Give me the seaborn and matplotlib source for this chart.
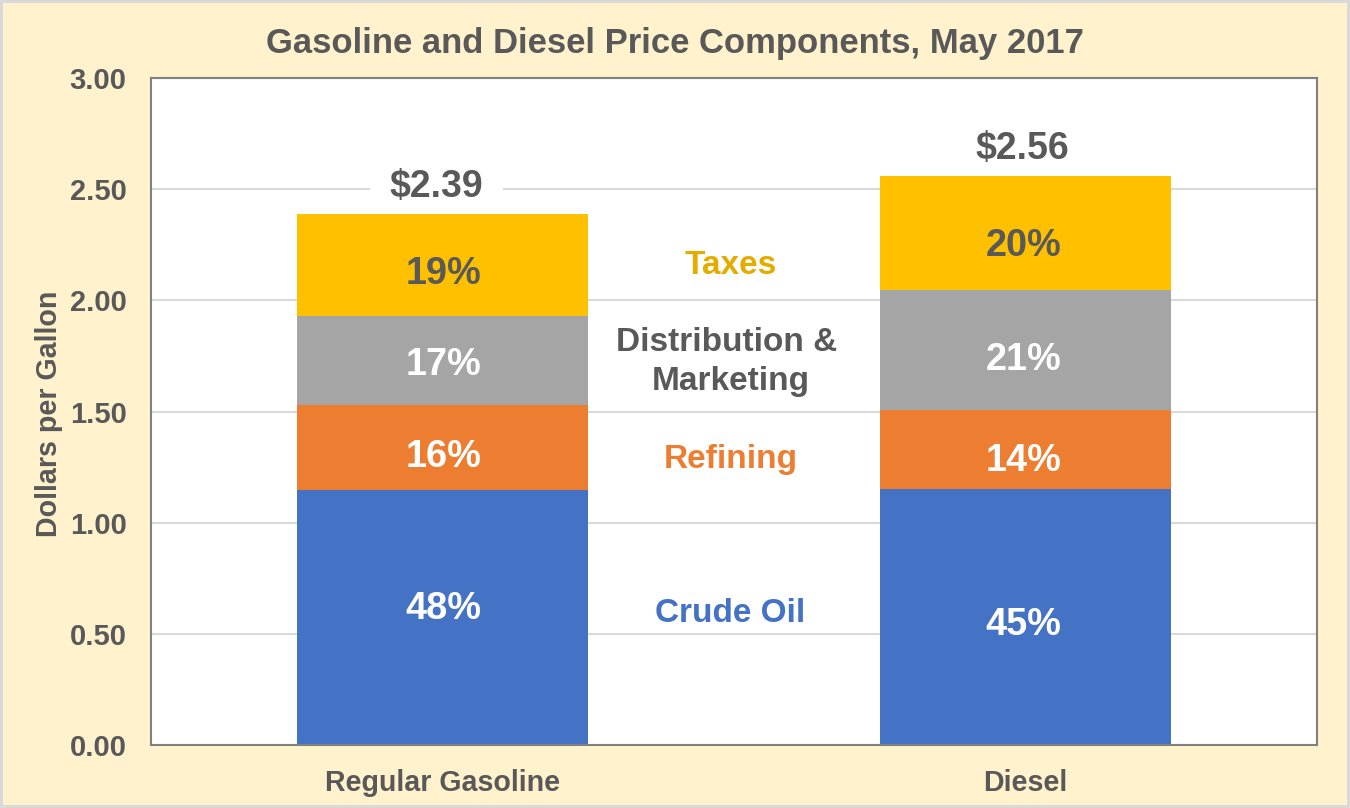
import pandas as pd
import matplotlib
matplotlib.use('Agg')
import matplotlib.pyplot as plt
import seaborn as sns

# Values, dollars per gallon
fuels = ['Regular Gasoline', 'Diesel']
components = ['Crude Oil', 'Refining', 'Distribution & Marketing', 'Taxes']
crude_oil = [1.147, 1.152]
refining = [0.383, 0.355]
distribution = [0.400, 0.540]
taxes = [0.460, 0.513]
totals = ['$2.39', '$2.56']
pct_gasoline = ['48%', '16%', '17%', '19%']
pct_diesel = ['45%', '14%', '21%', '20%']
name_lines = ['Crude Oil', 'Refining', 'Marketing', 'Distribution &', 'Taxes']

colors = ['#4472C4', '#ED7D31', '#A5A5A5', '#FFC000']
name_colors = ['#4472C4', '#ED7D31', '#595959', '#595959', '#E5AC00']
pct_colors = ['white', 'white', 'white', '#595959']
dark = '#595959'

sns.set_theme(style='white')
plt.rcParams['font.family'] = ['Liberation Sans', 'DejaVu Sans']
plt.rcParams['font.weight'] = 'bold'

series = [crude_oil, refining, distribution, taxes]
df = pd.DataFrame({'fuel': fuels * 4,
                   'component': [c for c in components for _ in fuels],
                   'price': crude_oil + refining + distribution + taxes})

fig, ax = plt.subplots(figsize=(13.5, 8.08), dpi=100)
fig.patch.set_facecolor('#FFF2CC')
fig.patch.set_edgecolor('#D9D9D9')
fig.patch.set_linewidth(3)
fig.subplots_adjust(left=151/1350, right=1317/1350, top=1-78/808, bottom=1-745/808)

# stacked bars, one barplot call per component
bottom = [0, 0]
for comp, col, vals in zip(components, colors, series):
    sns.barplot(data=df[df['component'] == comp], x='fuel', y='price', order=fuels,
                color=col, saturation=1, width=0.5, bottom=bottom, ax=ax, zorder=3, linewidth=0)
    bottom = [a + b for a, b in zip(bottom, vals)]

ax.set_xlim(-0.5, 1.5)
ax.set_ylim(0, 3)
ax.set_yticks([0, 0.5, 1, 1.5, 2, 2.5, 3])
ax.set_yticklabels(['%.2f' % t for t in ax.get_yticks()])
ax.yaxis.grid(True, color='#D9D9D9', linewidth=1.5)
ax.set_axisbelow(True)
ax.tick_params(axis='y', labelsize=21, labelcolor=dark, pad=17.5, length=0)
ax.tick_params(axis='x', labelsize=20.6, labelcolor=dark, pad=17, length=0)
ax.set_xlabel('')
ax.set_ylabel('Dollars per Gallon', fontsize=20.6, color=dark, fontweight='bold')
ax.yaxis.set_label_coords(-0.0755, 0.497)
for s in ax.spines.values():
    s.set_color('#808080')
    s.set_linewidth(1.5)
    s.set_visible(True)
    s.set_zorder(5)

fig.text(675/1350, 1-43/808, 'Gasoline and Diesel Price Components, May 2017', ha='center', va='center',
         fontsize=24.9, color=dark, fontweight='bold')

# hand placed labels, same as in the source chart
y_gasoline = [0.61, 1.295, 1.71, 2.12]
y_diesel = [0.54, 1.277, 1.73, 2.244]
for y, txt, col in zip(y_gasoline, pct_gasoline, pct_colors):
    ax.text(0.002, y, txt, ha='center', va='center', fontsize=27.3, color=col, zorder=6)
for y, txt, col in zip(y_diesel, pct_diesel, pct_colors):
    ax.text(0.997, y, txt, ha='center', va='center', fontsize=27.3, color=col, zorder=6)

x_names = [0.494, 0.494, 0.494, 0.488, 0.494]
y_names = [0.592, 1.282, 1.637, 1.811, 2.157]
for x, y, txt, col in zip(x_names, y_names, name_lines, name_colors):
    ax.text(x, y, txt, ha='center', va='center', fontsize=24, color=col, zorder=6)

# white box sits under the bars but over the gridline
y_totals = [2.51, 2.682]
for x, y, txt in zip([-0.01, 0.995], y_totals, totals):
    ax.text(x, y, txt, ha='center', va='center', fontsize=27, color=dark, zorder=2.5,
            bbox=dict(facecolor='white', edgecolor='none', pad=14))

fig.savefig('out.png', dpi=100, facecolor=fig.get_facecolor(), edgecolor=fig.get_edgecolor())
